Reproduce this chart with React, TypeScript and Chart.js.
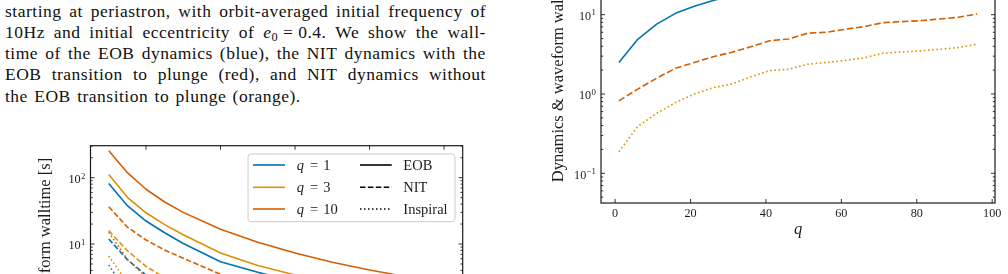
import React, { useEffect, useRef } from 'react';
import { Chart, registerables } from 'chart.js';

Chart.register(...registerables);

const BLUE = '#0173b2';
const ORANGE = '#de8f05';
const RED = '#d55e00';
const INK = '#1c1c1c';
const SERIF = '"Liberation Serif", "Times New Roman", serif';

// ---- Right panel: walltime against mass ratio q ----
const massRatios = [1, 6, 11, 16, 21, 26, 31, 36, 41, 46, 51, 56, 61, 66, 71, 76, 81, 86, 91, 96];
const eobDynamics = [2.5, 4.9, 7.6, 10.4, 12.8, 15.1, 17.5, 20, 23, 26, 29, 32, 35, 38, 41, 44, 47, 50, 53, 57];
const nitWithPlunge = [0.82, 1.15, 1.58, 2.11, 2.5, 2.95, 3.36, 3.95, 4.7, 4.94, 5.83, 6.0, 6.55, 7.06, 7.94, 8.17, 8.4, 8.83, 9.27, 10.2];
const nitNoPlunge = [0.187, 0.39, 0.57, 0.78, 1.0, 1.2, 1.34, 1.65, 1.97, 2.05, 2.37, 2.5, 2.65, 2.85, 3.26, 3.38, 3.5, 3.66, 3.85, 4.24];
const ratioTicks = [0, 20, 40, 60, 80, 100];

// ---- Left panel: walltime against initial frequency ----
const initialFreqs = [5, 7.5, 10, 12.5, 15, 20, 25, 30, 35, 40, 45, 50];
const eobQ1 = [82, 37.8, 22.2, 14.8, 10.2, 5.4, 3.75, 2.7, 2.0, 1.55, 1.25, 1.02];
const eobQ3 = [112, 50.6, 29.6, 19.6, 13.8, 7.3, 4.75, 3.4, 2.55, 2.0, 1.6, 1.32];
const eobQ10 = [255, 119, 67, 43, 30, 16.7, 10.6, 7.3, 5.3, 4.05, 3.2, 2.6];
const nitQ1 = [11.9, 5.8, 3.4, 2.3, 1.65, 0.98, 0.66, 0.48, 0.37, 0.29, 0.24, 0.2];
const nitQ3 = [15.9, 7.9, 4.6, 3.1, 2.25, 1.32, 0.89, 0.65, 0.5, 0.4, 0.33, 0.27];
const nitQ10 = [36.5, 18, 11.5, 8.1, 6.1, 3.5, 2.4, 1.75, 1.35, 1.08, 0.88, 0.74];
const inspQ1 = [4.8, 1.9, 1.0, 0.62, 0.42, 0.23, 0.145, 0.1, 0.074, 0.057, 0.045, 0.037];
const inspQ3 = [6.6, 2.6, 1.4, 0.85, 0.58, 0.32, 0.2, 0.14, 0.1, 0.078, 0.062, 0.05];
const inspQ10 = [15, 5.9, 3.2, 2.0, 1.4, 0.78, 0.5, 0.35, 0.26, 0.2, 0.16, 0.13];
const freqTicks = [10, 20, 30, 40, 50];

const Y_TITLE = 'Dynamics & waveform walltime [s]';

const captionLines = [
  'starting at periastron, with orbit-averaged initial frequency of',
  '10Hz and initial eccentricity of $ We show the wall-',
  'time of the EOB dynamics (blue), the NIT dynamics with the',
  'EOB transition to plunge (red), and NIT dynamics without',
];
const captionLast = 'the EOB transition to plunge (orange).';

function series(xs: number[], ys: number[], color: string, dash: number[]) {
  return {
    data: xs.map((x, i) => ({ x, y: ys[i] })),
    borderColor: color,
    borderWidth: 1.6,
    borderDash: dash,
    borderCapStyle: 'butt',
    borderJoinStyle: 'round',
    pointRadius: 0,
    fill: false,
    tension: 0,
  };
}

// Frame, inward ticks, tick labels, axis titles and an optional legend.
const decorPlugin = {
  id: 'decor',
  afterDatasetsDraw(chart: any, _args: any, opts: any) {
    const { ctx, chartArea: a } = chart;
    const xs = chart.scales.x;
    const ys = chart.scales.y;
    ctx.save();
    ctx.strokeStyle = INK;
    ctx.fillStyle = INK;
    ctx.setLineDash([]);
    ctx.lineWidth = 0.9;
    const seg = (x1: number, y1: number, x2: number, y2: number) => {
      ctx.beginPath();
      ctx.moveTo(x1, y1);
      ctx.lineTo(x2, y2);
      ctx.stroke();
    };
    for (const v of opts.xTicks) {
      const p = xs.getPixelForValue(v);
      seg(p, a.bottom, p, a.bottom - 4);
      seg(p, a.top, p, a.top + 4);
    }
    for (let e = opts.decades[0]; e <= opts.decades[1]; e++) {
      for (let m = 1; m < 10; m++) {
        const v = m * Math.pow(10, e);
        if (v < ys.min || v > ys.max) continue;
        const p = ys.getPixelForValue(v);
        const len = m === 1 ? 4 : 2.2;
        seg(a.left, p, a.left + len, p);
        seg(a.right, p, a.right - len, p);
      }
    }
    ctx.lineWidth = 1.2;
    ctx.strokeRect(a.left, a.top, a.right - a.left, a.bottom - a.top);

    // x tick labels
    ctx.font = `12.2px ${SERIF}`;
    ctx.textAlign = 'center';
    ctx.textBaseline = 'alphabetic';
    for (const v of opts.xTicks) {
      ctx.fillText(String(v), xs.getPixelForValue(v), a.bottom + 14.3);
    }
    // y tick labels as powers of ten, only for decades inside the axis range
    ctx.textAlign = 'left';
    for (let e = opts.decades[0]; e <= opts.decades[1]; e++) {
      const v = Math.pow(10, e);
      if (v < ys.min || v > ys.max) continue;
      const p = ys.getPixelForValue(v);
      const exp = e < 0 ? '\u2212' + String(-e) : String(e);
      ctx.font = `8.8px ${SERIF}`;
      const we = ctx.measureText(exp).width;
      ctx.font = `12.2px ${SERIF}`;
      const wb = ctx.measureText('10').width;
      const end = a.left - 5;
      ctx.fillText('10', end - we - wb - 0.4, p + 5.3);
      ctx.font = `8.8px ${SERIF}`;
      ctx.fillText(exp, end - we, p + 0.8);
    }
    // y title, rotated and centred on the plot height
    ctx.save();
    ctx.translate(opts.yTitleX, (a.top + a.bottom) / 2);
    ctx.rotate(-Math.PI / 2);
    ctx.font = `16.5px ${SERIF}`;
    ctx.textAlign = 'center';
    ctx.fillText(Y_TITLE, 0, 0);
    ctx.restore();
    // x title
    if (opts.xTitle) {
      ctx.font = `italic 16.5px ${SERIF}`;
      ctx.textAlign = 'center';
      ctx.fillText(opts.xTitle, (a.left + a.right) / 2, a.bottom + 30.5);
    }

    if (opts.legend) {
      const bx = a.right - 7.7 - 207;
      const by = a.top + 8.3;
      ctx.beginPath();
      ctx.roundRect(bx, by, 207, 67.7, 3);
      ctx.fillStyle = 'rgba(255,255,255,0.8)';
      ctx.fill();
      ctx.strokeStyle = '#cccccc';
      ctx.lineWidth = 1;
      ctx.stroke();
      const rows = [11, 33.3, 55];
      const left = [
        { color: BLUE, label: '1' },
        { color: ORANGE, label: '3' },
        { color: RED, label: '10' },
      ];
      const right = [
        { dash: [] as number[], label: 'EOB' },
        { dash: [5.5, 2.4], label: 'NIT' },
        { dash: [1.5, 2.5], label: 'Inspiral' },
      ];
      rows.forEach((dy, i) => {
        const y = by + dy;
        ctx.lineWidth = 1.6;
        ctx.setLineDash([]);
        ctx.strokeStyle = left[i].color;
        seg(bx + 5, y, bx + 37, y);
        ctx.strokeStyle = '#000';
        ctx.setLineDash(right[i].dash);
        seg(bx + 112, y, bx + 143.7, y);
        ctx.setLineDash([]);
        ctx.fillStyle = INK;
        ctx.textAlign = 'left';
        const tx = bx + 48.7;
        ctx.font = `italic 14.5px ${SERIF}`;
        ctx.fillText('q', tx, y + 4.8);
        ctx.font = `14.5px ${SERIF}`;
        ctx.textAlign = 'center';
        ctx.fillText('=', tx + 17.5, y + 4.8);
        ctx.textAlign = 'left';
        ctx.fillText(left[i].label, tx + 26.6, y + 4.8);
        ctx.fillText(right[i].label, bx + 155.3, y + 4.8);
      });
    }
    ctx.restore();
  },
};

function buildConfig(p: any) {
  return {
    type: 'line',
    data: { datasets: p.datasets },
    options: {
      animation: false,
      responsive: false,
      maintainAspectRatio: false,
      devicePixelRatio: 1,
      events: [],
      layout: { padding: { top: p.padTop, right: p.padRight, left: 0, bottom: 0 } },
      plugins: {
        legend: { display: false },
        tooltip: { enabled: false },
        decor: p.decor,
      },
      scales: {
        x: {
          type: 'linear',
          min: p.xMin,
          max: p.xMax,
          grid: { display: false },
          border: { display: false },
          ticks: { display: false },
          afterFit: (s: any) => { s.height = p.xHeight; },
        },
        y: {
          type: 'logarithmic',
          min: p.yMin,
          max: p.yMax,
          grid: { display: false },
          border: { display: false },
          ticks: { display: false },
          afterFit: (s: any) => { s.width = p.yWidth; },
        },
      },
    },
    plugins: [decorPlugin],
  };
}

function Panel({ left, top, width, height, params }: any) {
  const ref = useRef<HTMLCanvasElement>(null);
  useEffect(() => {
    const chart = new Chart(ref.current as HTMLCanvasElement, buildConfig(params) as any);
    return () => chart.destroy();
  }, []);
  return (
    <div style={{ position: 'absolute', left, top, width, height }}>
      <canvas ref={ref} width={width} height={height} style={{ display: 'block', width, height }} />
    </div>
  );
}

const freqPanel = {
  datasets: [
    series(initialFreqs, inspQ10, RED, [1.5, 2.5]),
    series(initialFreqs, inspQ1, BLUE, [1.5, 2.5]),
    series(initialFreqs, inspQ3, ORANGE, [1.5, 2.5]),
    series(initialFreqs, nitQ1, BLUE, [5.5, 2.4]),
    series(initialFreqs, nitQ3, ORANGE, [5.5, 2.4]),
    series(initialFreqs, nitQ10, RED, [5.5, 2.4]),
    series(initialFreqs, eobQ1, BLUE, []),
    series(initialFreqs, eobQ3, ORANGE, []),
    series(initialFreqs, eobQ10, RED, []),
  ],
  padTop: 25.7,
  padRight: 17.3,
  xHeight: 11.7,
  yWidth: 90.5,
  xMin: 2.55,
  xMax: 52.5,
  yMin: 0.0333,
  yMax: 303.9,
  decor: { xTicks: freqTicks, decades: [-2, 2], yTitleX: 50, legend: true },
};

const ratioPanel = {
  datasets: [
    series(massRatios, eobDynamics, BLUE, []),
    series(massRatios, nitWithPlunge, RED, [6.5, 2.8]),
    series(massRatios, nitNoPlunge, ORANGE, [1.6, 2.6]),
  ],
  padTop: 23,
  padRight: 13,
  xHeight: 57,
  yWidth: 81,
  xMin: -3.75,
  xMax: 100.75,
  yMin: 0.0422,
  yMax: 143.3,
  decor: { xTicks: ratioTicks, decades: [-2, 2], yTitleX: 43.3, xTitle: 'q' },
};

function CaptionLine({ text }: { text: string }) {
  const words = text.split(' ');
  return (
    <div style={{ display: 'flex', justifyContent: 'space-between', alignItems: 'baseline', height: 21.25, lineHeight: '21.25px', whiteSpace: 'nowrap' }}>
      {words.map((w, i) =>
        w === '$' ? (
          <span key={i}>
            <i>e</i>
            <span style={{ fontSize: '0.7em', verticalAlign: '-0.25em', lineHeight: 0 }}>0</span>
            {' = 0.4.'}
          </span>
        ) : (
          <span key={i}>{w}</span>
        )
      )}
    </div>
  );
}

function Caption() {
  return (
    <div style={{ position: 'absolute', left: 5, top: 0.5, width: 481, fontFamily: SERIF, fontSize: 17.5, letterSpacing: '0.5px', color: '#111' }}>
      {captionLines.map((l, i) => (
        <CaptionLine key={i} text={l} />
      ))}
      <div style={{ height: 21.25, lineHeight: '21.25px', whiteSpace: 'nowrap', wordSpacing: '1.5px' }}>{captionLast}</div>
    </div>
  );
}

export default function App() {
  return (
    <div style={{ position: 'fixed', left: 0, top: 0, width: 1008, height: 274, overflow: 'hidden', background: '#fff' }}>
      <Caption />
      <Panel left={0} top={120} width={480} height={300} params={freqPanel} />
      <Panel left={520} top={-100} width={488} height={360} params={ratioPanel} />
    </div>
  );
}
